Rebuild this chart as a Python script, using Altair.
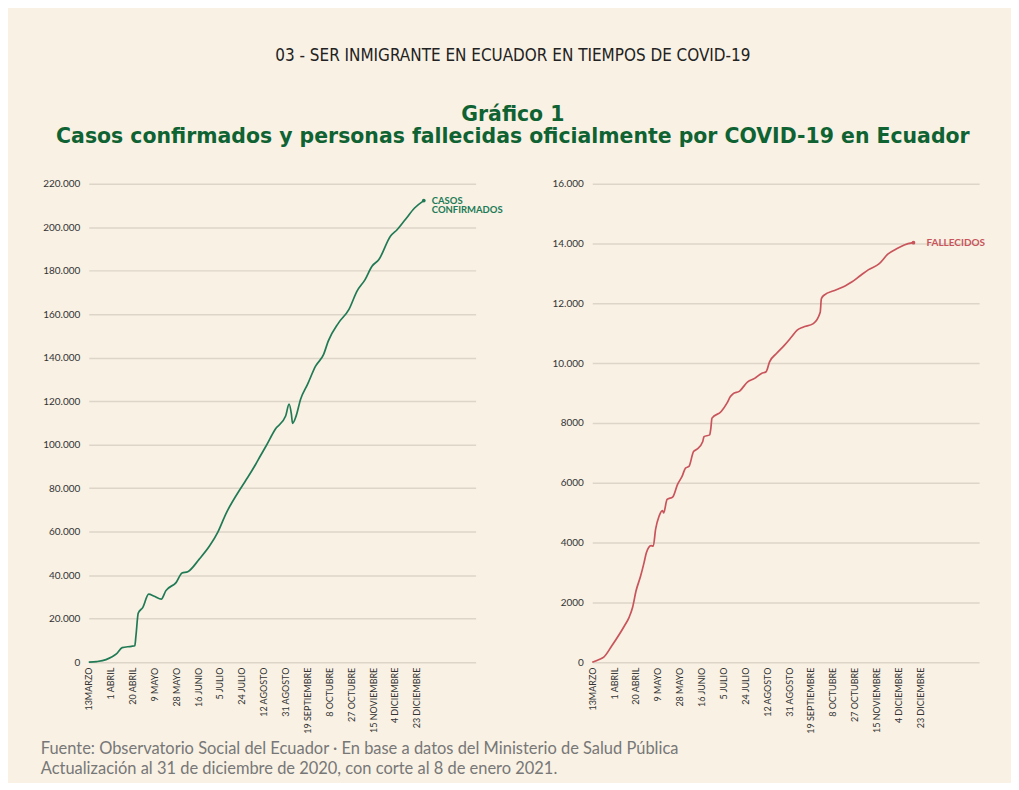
import json
import altair as alt
import pandas as pd

# ---------------- data ----------------
casos_fechas = [
    "2020-03-13", "2020-03-20", "2020-03-28", "2020-04-06", "2020-04-11", "2020-04-19",
    "2020-04-22", "2020-04-23", "2020-04-25", "2020-04-29", "2020-05-04", "2020-05-09",
    "2020-05-15", "2020-05-19", "2020-05-28", "2020-06-02", "2020-06-07", "2020-06-17",
    "2020-06-26", "2020-07-03", "2020-07-10", "2020-07-24", "2020-07-29", "2020-08-05",
    "2020-08-09", "2020-08-14", "2020-08-22", "2020-08-31", "2020-09-03", "2020-09-05",
    "2020-09-06", "2020-09-09", "2020-09-13", "2020-09-19", "2020-09-26", "2020-10-03",
    "2020-10-07", "2020-10-16", "2020-10-25", "2020-11-01", "2020-11-08", "2020-11-14",
    "2020-11-20", "2020-11-30", "2020-12-06", "2020-12-13", "2020-12-21", "2020-12-29",
]
casos_valores = [
    0, 300, 1200, 3800, 6700, 7300,
    7600, 12200, 22600, 25200, 31300, 30300,
    29000, 32900, 36700, 41000, 41600, 47400,
    53500, 59700, 68100, 80800, 84900, 91000,
    94800, 99400, 107100, 113200, 118600, 114000,
    109800, 113000, 120900, 127700, 136100, 141500,
    147600, 156000, 162200, 170600, 175900, 182000,
    185100, 195800, 198900, 203500, 208800, 212200,
]

fallecidos_fechas = [
    "2020-03-13", "2020-03-19", "2020-03-23", "2020-03-30", "2020-04-10", "2020-04-14",
    "2020-04-17", "2020-04-20", "2020-04-24", "2020-04-27", "2020-04-29", "2020-05-03",
    "2020-05-05", "2020-05-07", "2020-05-10", "2020-05-13", "2020-05-14", "2020-05-17",
    "2020-05-22", "2020-05-26", "2020-05-30", "2020-06-02", "2020-06-05", "2020-06-09",
    "2020-06-12", "2020-06-17", "2020-06-18", "2020-06-23", "2020-06-24", "2020-06-25",
    "2020-07-03", "2020-07-08", "2020-07-11", "2020-07-13", "2020-07-19", "2020-07-26",
    "2020-08-01", "2020-08-07", "2020-08-11", "2020-08-14", "2020-08-20", "2020-08-27",
    "2020-09-02", "2020-09-07", "2020-09-12", "2020-09-21", "2020-09-27", "2020-09-28",
    "2020-09-30", "2020-10-11", "2020-10-19", "2020-10-24", "2020-11-01", "2020-11-08",
    "2020-11-17", "2020-11-25", "2020-12-02", "2020-12-09", "2020-12-17",
]
fallecidos_valores = [
    0, 90, 170, 550, 1220, 1500,
    1830, 2380, 2880, 3330, 3660, 3900,
    3880, 4440, 4880, 5070, 4990, 5440,
    5530, 5940, 6210, 6490, 6545, 7045,
    7120, 7380, 7540, 7600, 7820, 8160,
    8380, 8660, 8880, 8965, 9065, 9375,
    9490, 9655, 9710, 10040, 10320, 10600,
    10870, 11100, 11200, 11320, 11700, 12150,
    12260, 12450, 12590, 12700, 12930, 13125,
    13315, 13650, 13815, 13950, 14025,
]

tick_fechas = [
    "2020-03-13", "2020-04-01", "2020-04-20", "2020-05-09", "2020-05-28", "2020-06-16",
    "2020-07-05", "2020-07-24", "2020-08-12", "2020-08-31", "2020-09-19", "2020-10-08",
    "2020-10-27", "2020-11-15", "2020-12-04", "2020-12-23",
]
tick_etiquetas = [
    "13MARZO", "1 ABRIL", "20 ABRIL", "9 MAYO", "28 MAYO", "16 JUNIO",
    "5 JULIO", "24 JULIO", "12 AGOSTO", "31 AGOSTO", "19 SEPTIEMBRE", "8 OCTUBRE",
    "27 OCTUBRE", "15 NOVIEMBRE", "4 DICIEMBRE", "23 DICIEMBRE",
]

casos_y_ticks = [0, 20000, 40000, 60000, 80000, 100000, 120000, 140000,
                 160000, 180000, 200000, 220000]
casos_y_etiquetas = ["0", "20.000", "40.000", "60.000", "80.000", "100.000", "120.000",
                     "140.000", "160.000", "180.000", "200.000", "220.000"]
fall_y_ticks = [0, 2000, 4000, 6000, 8000, 10000, 12000, 14000, 16000]
fall_y_etiquetas = ["0", "2000", "4000", "6000", "8000", "10.000", "12.000", "14.000", "16.000"]

dominio_fechas = ["2020-03-13", "2021-02-12"]

encabezado = "03 - SER INMIGRANTE EN ECUADOR EN TIEMPOS DE COVID-19"
titulo = ["Gráfico 1",
          "Casos confirmados y personas fallecidas oficialmente por COVID-19 en Ecuador"]
fuente = ["Fuente: Observatorio Social del Ecuador · En base a datos del Ministerio de Salud Pública",
          "Actualización al 31 de diciembre de 2020, con corte al 8 de enero 2021."]

# ---------------- styles ----------------
BG = "#f8f1e4"
GRID = "#dcd5c8"
VERDE = "#217a56"
ROJO = "#c9545b"
TITULO_VERDE = "#0f6232"


def ms(d):
    return int(pd.Timestamp(d, tz="UTC").value // 10**6)


tick_ms = [ms(d) for d in tick_fechas]
x_label_expr = (f"{json.dumps(tick_etiquetas)}"
                f"[indexof({json.dumps(tick_fechas)}, utcFormat(datum.value, '%Y-%m-%d'))]")


def y_label_expr(ticks, labels):
    return f"{json.dumps(labels)}[indexof({json.dumps(ticks)}, datum.value)]"


def panel(fechas, valores, color, etiqueta, y_ticks, y_labels, dx, fsize, lineh):
    df = pd.DataFrame({"fecha": fechas, "valor": valores})
    x = alt.X(
        "fecha:T",
        scale=alt.Scale(type="utc", domain=[ms(d) for d in dominio_fechas]),
        axis=alt.Axis(values=tick_ms, labelExpr=x_label_expr, labelAngle=-90, title=None,
                      grid=False, ticks=False, domain=False, labelFont="Lato",
                      labelFontSize=9, labelColor="#333333", labelPadding=5,
                      labelOverlap=False, labelFlush=False, labelBound=False),
    )
    y = alt.Y(
        "valor:Q",
        scale=alt.Scale(domain=[y_ticks[0], y_ticks[-1]], nice=False),
        axis=alt.Axis(values=y_ticks, labelExpr=y_label_expr(y_ticks, y_labels), title=None,
                      ticks=False, domain=False, gridColor=GRID, gridWidth=1.5,
                      labelFont="Lato", labelFontSize=10, labelColor="#333333",
                      labelPadding=9, labelFlush=False),
    )
    linea = alt.Chart(df).mark_line(color=color, strokeWidth=1.7,
                                    interpolate="monotone").encode(x=x, y=y)
    ultimo = df.tail(1)
    punto = alt.Chart(ultimo).mark_point(filled=True, color=color, size=14,
                                         opacity=1).encode(x=x, y=y)
    texto = alt.Chart(ultimo).mark_text(
        align="left", baseline="middle", dx=dx, font="Lato", fontWeight="bold",
        fontSize=fsize, color=color, lineBreak="\n", lineHeight=lineh,
    ).encode(x=x, y=y, text=alt.value(etiqueta))
    return alt.layer(linea, punto, texto).properties(width=388, height=480)


izq = panel(casos_fechas, casos_valores, VERDE, "CASOS\nCONFIRMADOS",
            casos_y_ticks, casos_y_etiquetas, 8, 9.5, 9.5)
der = panel(fallecidos_fechas, fallecidos_valores, ROJO, "FALLECIDOS",
            fall_y_ticks, fall_y_etiquetas, 13, 10, 10)

interior = alt.hconcat(izq, der, spacing=117, bounds="flush").properties(
    title=alt.TitleParams(
        text=fuente, orient="bottom", anchor="start", frame="bounds",
        font="Lato", fontSize=16.5, fontWeight="normal", color="#777777",
        lineHeight=20, offset=8, dx=-2,
    )
)

chart = alt.vconcat(interior).properties(
    title=alt.TitleParams(
        text=encabezado, subtitle=titulo, anchor="middle", frame="bounds",
        font="Liberation Sans Narrow, DejaVu Sans Condensed, Liberation Sans",
        fontSize=17, fontWeight="normal", color="#222222",
        subtitleFont="DejaVu Sans", subtitleFontSize=20.5, subtitleFontWeight="bold",
        subtitleColor=TITULO_VERDE, subtitleLineHeight=22.5, subtitlePadding=40,
        offset=30,
    ),
    padding={"left": 32, "top": 38, "right": 26, "bottom": 4},
    background=BG,
).configure_view(stroke=None)

chart.save("out.html", embed_options={"renderer": "svg", "actions": False})
